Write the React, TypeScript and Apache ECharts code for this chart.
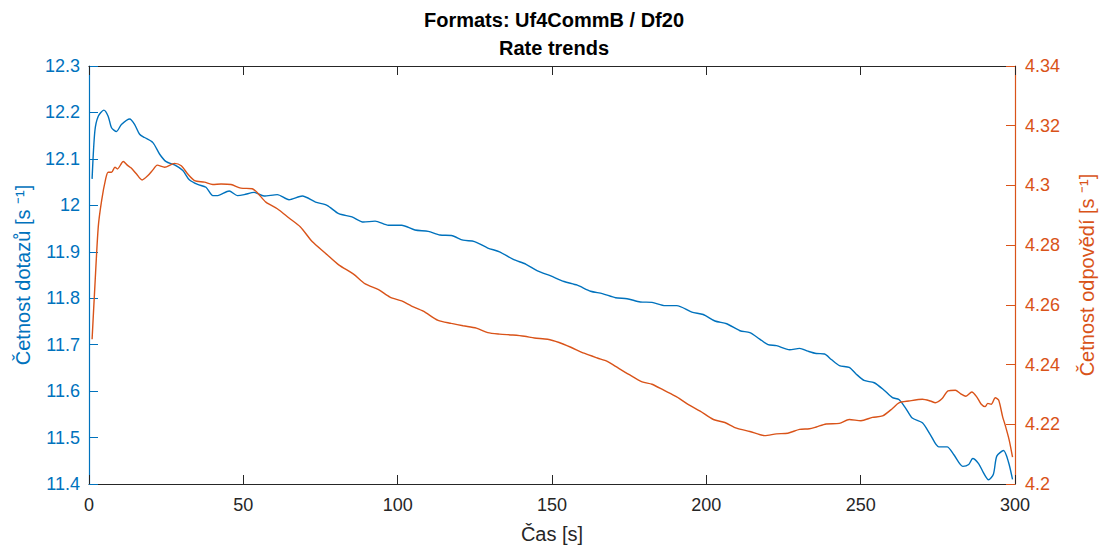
import React, { useEffect, useRef } from "react";
import * as echarts from "echarts";

const titleLines = ["Formats: Uf4CommB / Df20", "Rate trends"];
const xName = "Čas [s]";
const leftName = "Četnost dotazů [s ⁻¹]";
const rightName = "Četnost odpovědí [s ⁻¹]";

const queryTimes = [
  1.0, 1.9, 3.0, 4.8, 6.2, 7.3, 8.9, 10.5, 13.2, 14.8, 16.4, 18.0, 20.7, 22.9, 25.0, 27.7, 30.4, 32.5,
  35.2, 37.9, 40.1, 41.7, 45.4, 48.1, 50.3, 53.5, 56.7, 61.0, 64.8, 69.1, 73.4, 77.1, 80.9, 85.2, 88.9,
  92.7, 97.0, 101.3, 105.6, 109.9, 113.7, 117.4, 121.2, 124.9, 129.2, 133.0, 137.3, 141.6, 145.3, 149.6,
  153.9, 158.2, 162.5, 166.3, 170.6, 174.3, 178.6, 182.4, 186.7, 190.4, 195.3, 199.0, 202.8, 206.6, 210.9,
  214.1, 217.3, 220.0, 222.7, 227.0, 230.2, 232.9, 235.6, 238.3, 240.5, 243.1, 246.3, 248.5, 251.1, 254.4,
  257.6, 260.3, 262.4, 264.6, 266.7, 270.0, 272.6, 275.3, 278.0, 280.2, 283.1, 285.0, 286.3, 288.2, 289.8,
  291.4, 293.0, 294.1, 296.3, 297.9, 299.2,
];
const queryRates = [
  12.057, 12.16, 12.192, 12.205, 12.192, 12.167, 12.159, 12.174, 12.186, 12.174, 12.153, 12.146, 12.135,
  12.11, 12.094, 12.087, 12.075, 12.055, 12.045, 12.039, 12.021, 12.021, 12.031, 12.021, 12.023, 12.028,
  12.02, 12.023, 12.012, 12.02, 12.007, 12.0, 11.982, 11.975, 11.964, 11.966, 11.957, 11.957, 11.947,
  11.944, 11.936, 11.935, 11.925, 11.922, 11.908, 11.9, 11.884, 11.873, 11.859, 11.848, 11.836, 11.828,
  11.815, 11.81, 11.801, 11.799, 11.792, 11.791, 11.784, 11.784, 11.77, 11.765, 11.751, 11.745, 11.73,
  11.726, 11.712, 11.7, 11.698, 11.689, 11.692, 11.686, 11.681, 11.68, 11.668, 11.655, 11.651, 11.637,
  11.623, 11.618, 11.602, 11.586, 11.582, 11.563, 11.542, 11.532, 11.506, 11.48, 11.48, 11.463, 11.438,
  11.442, 11.455, 11.444, 11.424, 11.409, 11.421, 11.46, 11.472, 11.447, 11.41,
];

const replyTimes = [
  1.0, 1.9, 3.0, 4.1, 5.4, 6.2, 7.3, 8.4, 9.2, 11.1, 12.4, 13.7, 15.4, 17.2, 19.1, 20.7, 22.1, 24.5, 27.7,
  29.9, 32.0, 34.2, 37.4, 40.1, 42.8, 46.0, 49.2, 52.9, 57.3, 61.0, 64.8, 68.5, 72.3, 76.6, 80.9, 85.7,
  89.5, 93.8, 97.5, 101.3, 104.5, 108.3, 113.1, 117.4, 121.2, 125.5, 129.2, 133.0, 137.3, 141.1, 144.3,
  148.6, 152.3, 156.1, 160.4, 164.7, 167.9, 170.6, 174.9, 179.2, 182.4, 186.2, 190.4, 194.2, 198.0, 202.3,
  206.0, 209.8, 214.1, 218.9, 222.7, 226.4, 230.2, 233.4, 235.6, 238.8, 243.1, 246.3, 250.1, 253.8, 257.1,
  260.3, 262.4, 265.6, 270.0, 272.6, 274.2, 276.4, 278.3, 280.7, 282.3, 284.1, 286.0, 287.6, 289.0, 290.3,
  291.2, 292.3, 293.6, 294.7, 296.0, 296.8, 298.1, 299.2,
];
const replyRates = [
  4.2485, 4.2662, 4.2861, 4.295, 4.3022, 4.3044, 4.3044, 4.3061, 4.3055, 4.308, 4.3068, 4.3058, 4.3038,
  4.3018, 4.3033, 4.3052, 4.3068, 4.3061, 4.3074, 4.3066, 4.3038, 4.3016, 4.3011, 4.3003, 4.3005, 4.3003,
  4.2991, 4.2989, 4.2944, 4.2922, 4.2891, 4.2861, 4.2812, 4.2773, 4.2734, 4.2703, 4.267, 4.2651, 4.2626,
  4.2613, 4.2596, 4.2579, 4.2548, 4.2538, 4.253, 4.2522, 4.2507, 4.2502, 4.2499, 4.2495, 4.2489, 4.2485,
  4.2474, 4.2458, 4.2438, 4.2422, 4.2411, 4.2394, 4.2367, 4.2342, 4.2334, 4.2314, 4.2292, 4.2266, 4.2244,
  4.2216, 4.2206, 4.2187, 4.2176, 4.2162, 4.2168, 4.217, 4.2183, 4.2185, 4.2191, 4.2201, 4.2203, 4.2216,
  4.2212, 4.2223, 4.2228, 4.2253, 4.2272, 4.2278, 4.2284, 4.2278, 4.2272, 4.2286, 4.2312, 4.2314, 4.2303,
  4.2294, 4.2308, 4.2292, 4.2268, 4.2259, 4.227, 4.2267, 4.2289, 4.2281, 4.2225, 4.2198, 4.2148, 4.209,
];

const BLUE = "#0072BD";
const ORANGE = "#D95319";
const AXIS = "#262626";
const FONT = "'Liberation Sans', Arial, Helvetica, sans-serif";

export default function App() {
  const ref = useRef<HTMLDivElement>(null);

  useEffect(() => {
    if (!ref.current) return;
    const chart = echarts.init(ref.current, undefined, { renderer: "svg" });
    const tickStyle = { show: true, inside: true, length: 9 };
    chart.setOption({
      animation: false,
      backgroundColor: "#ffffff",
      textStyle: { fontFamily: FONT },
      title: {
        text: titleLines.join("\n"),
        left: 554,
        top: 6,
        padding: 0,
        textAlign: "center",
        textStyle: { fontFamily: FONT, fontWeight: "bold", fontSize: 20, lineHeight: 28, color: "#000" },
      },
      grid: { left: 89, right: 85, top: 66, bottom: 61, containLabel: false },
      xAxis: [
        {
          type: "value",
          min: 0,
          max: 300,
          interval: 50,
          position: "bottom",
          name: xName,
          nameLocation: "middle",
          nameGap: 40,
          nameTextStyle: { fontSize: 20, color: AXIS, fontFamily: FONT },
          axisLine: { show: true, onZero: false, lineStyle: { color: AXIS, width: 1.2 } },
          axisTick: { ...tickStyle, lineStyle: { color: AXIS } },
          axisLabel: { fontSize: 18, color: AXIS, margin: 12, fontFamily: FONT },
          splitLine: { show: false },
        },
        {
          type: "value",
          min: 0,
          max: 300,
          interval: 50,
          position: "top",
          axisLine: { show: true, onZero: false, lineStyle: { color: AXIS, width: 1.2 } },
          axisTick: { ...tickStyle, lineStyle: { color: AXIS } },
          axisLabel: { show: false },
          splitLine: { show: false },
        },
      ],
      yAxis: [
        {
          type: "value",
          min: 11.4,
          max: 12.3,
          interval: 0.1,
          position: "left",
          name: leftName,
          nameLocation: "middle",
          nameGap: 56,
          nameTextStyle: { fontSize: 20, color: BLUE, fontFamily: FONT },
          axisLine: { show: true, onZero: false, lineStyle: { color: BLUE, width: 1.2 } },
          axisTick: { ...tickStyle, lineStyle: { color: BLUE } },
          axisLabel: { fontSize: 18, color: BLUE, margin: 9, fontFamily: FONT },
          splitLine: { show: false },
        },
        {
          type: "value",
          min: 4.2,
          max: 4.34,
          interval: 0.02,
          position: "right",
          name: rightName,
          nameLocation: "middle",
          nameGap: 62,
          nameTextStyle: { fontSize: 20, color: ORANGE, fontFamily: FONT },
          axisLine: { show: true, onZero: false, lineStyle: { color: ORANGE, width: 1.2 } },
          axisTick: { ...tickStyle, lineStyle: { color: ORANGE } },
          axisLabel: { fontSize: 18, color: ORANGE, margin: 10, fontFamily: FONT },
          splitLine: { show: false },
        },
      ],
      series: [
        {
          type: "line",
          name: "dotazy",
          xAxisIndex: 0,
          yAxisIndex: 0,
          data: queryTimes.map((t, i) => [t, queryRates[i]]),
          showSymbol: false,
          smooth: 0.25,
          lineStyle: { color: BLUE, width: 1.4 },
          itemStyle: { color: BLUE },
        },
        {
          type: "line",
          name: "odpovědi",
          xAxisIndex: 0,
          yAxisIndex: 1,
          data: replyTimes.map((t, i) => [t, replyRates[i]]),
          showSymbol: false,
          smooth: 0.25,
          lineStyle: { color: ORANGE, width: 1.4 },
          itemStyle: { color: ORANGE },
        },
      ],
    });
    return () => chart.dispose();
  }, []);

  return (
    <div
      ref={ref}
      style={{ position: "fixed", left: 0, top: 0, width: 1105, height: 549, background: "#fff" }}
    />
  );
}
